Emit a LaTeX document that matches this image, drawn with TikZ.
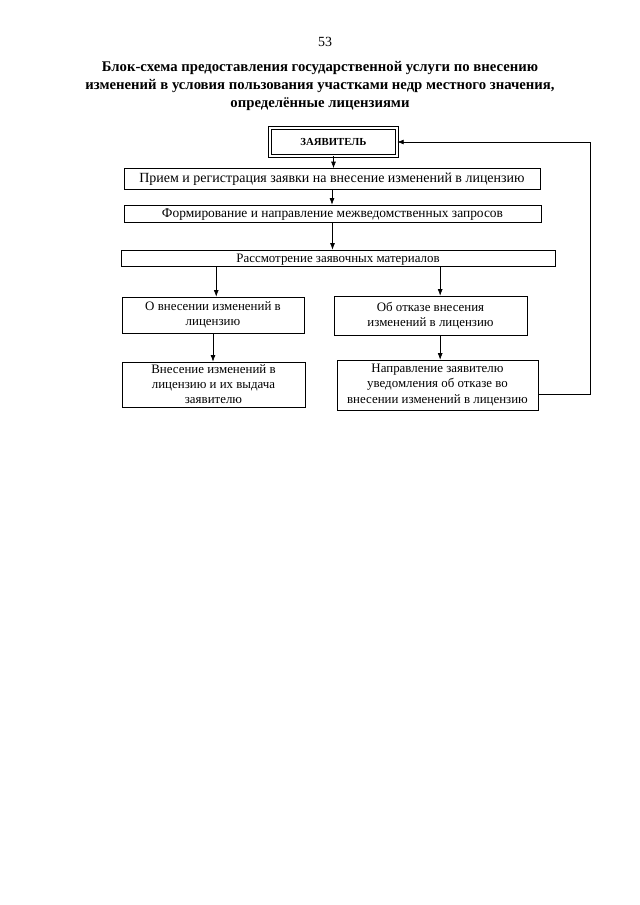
\documentclass[tikz,border=0pt]{standalone}
\usepackage{fontspec}
\setmainfont{Liberation Serif}
\usetikzlibrary{arrows.meta}

\begin{document}
\begin{tikzpicture}[x=0.93pt,y=-0.93pt,
  blok/.style={draw, line width=0.6pt, inner sep=1pt, align=center,
    font=\fontsize{12}{14}\selectfont},
  strelka/.style={-{Latex[length=6pt,width=4.5pt]}, line width=0.6pt}]

\useasboundingbox (0,0) rectangle (640,905);

% page number and heading
\node (nomer) at (325,42) {\fontsize{13}{15}\selectfont 53};
\node (zagolovok) [align=center, font=\fontsize{13.7}{16.7}\selectfont\bfseries] at (320,86)
  {Блок-схема предоставления государственной услуги по внесению\\
   изменений в условия пользования участками недр местного значения,\\
   определённые лицензиями};

% boxes
\node (zayav) [blok, double, double distance=2pt, line width=0.6pt,
  minimum width=118pt, minimum height=26pt, font=\fontsize{10}{12}\selectfont\bfseries]
  at (333.5,142) {ЗАЯВИТЕЛЬ};
\node (priem) [blok, minimum width=387pt, minimum height=19.5pt,
  font=\fontsize{13}{15}\selectfont] at (332,179)
  {Прием и регистрация заявки на внесение изменений в лицензию};
\node (form) [blok, minimum width=388pt, minimum height=15.8pt, text depth=0pt,
  font=\fontsize{12.5}{14}\selectfont] at (332.5,213.5)
  {Формирование и направление межведомственных запросов};
\node (rassm) [blok, minimum width=403.6pt, minimum height=14.9pt, text depth=0pt] at (338,258)
  {Рассмотрение заявочных материалов};
\node (vnes) [blok, minimum width=169pt, minimum height=33.5pt] at (213,315)
  {О внесении изменений в\\ лицензию};
\node (otkaz) [blok, minimum width=179.5pt, minimum height=36.3pt] at (430.5,315.5)
  {Об отказе внесения\\ изменений в лицензию};
\node (vydacha) [blok, minimum width=170pt, minimum height=41.9pt] at (213.5,384.5)
  {Внесение изменений в\\ лицензию и их выдача\\ заявителю};
\node (uved) [blok, minimum width=187pt, minimum height=46.5pt] at (437.5,385)
  {Направление заявителю\\ уведомления об отказе во\\ внесении изменений в лицензию};

% arrows
\draw[strelka] (zayav.south) -- (zayav.south |- priem.north);
\draw[strelka] (priem.south) -- (priem.south |- form.north);
\draw[strelka] (form.south) -- (form.south |- rassm.north);
\draw[strelka] ([xshift=3pt]vnes.north |- rassm.south) -- ([xshift=3pt]vnes.north);
\draw[strelka] ([xshift=9pt]otkaz.north |- rassm.south) -- ([xshift=9pt]otkaz.north);
\draw[strelka] (vnes.south) -- (vnes.south |- vydacha.north);
\draw[strelka] ([xshift=9pt]otkaz.south) -- ([xshift=9pt]otkaz.south |- uved.north);
\draw[strelka] ([yshift=-9pt]uved.east) -- ++(52,0) |- (zayav.east);

\end{tikzpicture}
\end{document}
